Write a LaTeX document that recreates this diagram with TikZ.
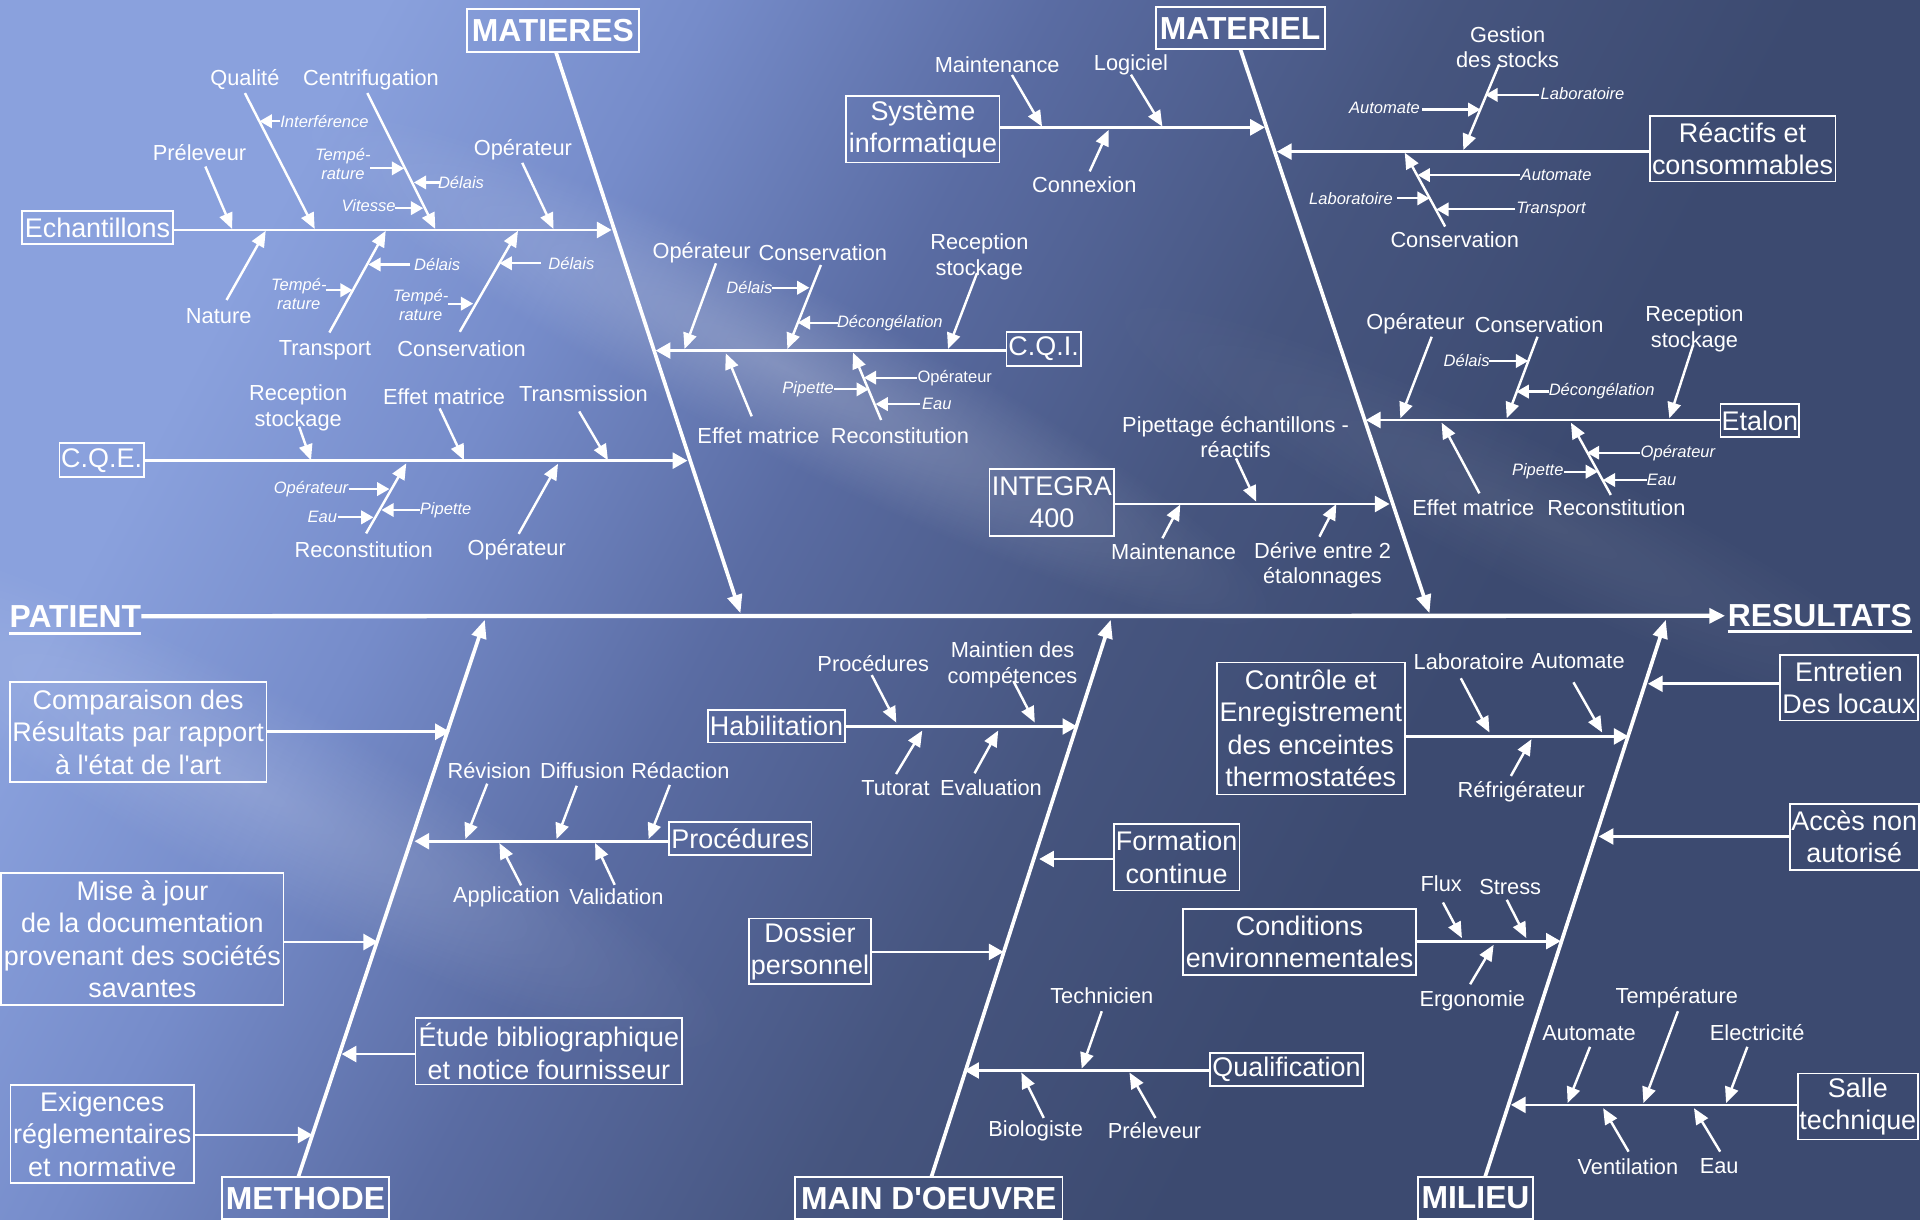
\documentclass[tikz,border=0pt]{standalone}
\usepackage{fontspec}
\setmainfont{Liberation Sans}
\usetikzlibrary{arrows.meta,fadings}
\definecolor{bgA}{RGB}{138,161,221}
\definecolor{bgB}{RGB}{118,140,202}
\definecolor{bgC}{RGB}{90,108,163}
\definecolor{bgE}{RGB}{70,85,127}
\definecolor{bgD}{RGB}{60,74,112}
\pgfdeclarehorizontalshading{bgsh}{100bp}{color(0bp)=(bgA); color(36.5bp)=(bgA); color(41.3bp)=(bgB); color(46.5bp)=(bgC); color(52.5bp)=(bgE); color(57.9bp)=(bgD); color(100bp)=(bgD)}
\tikzfading[name=glow, inner color=transparent!0, outer color=transparent!100]
\newcommand\mylink[4][cz]{\coordinate (#2a) at (#3);\coordinate (#2b) at (#4);\draw[#1] (#2a) -- (#2b);}
\begin{document}
\begin{tikzpicture}[x=1pt,y=-1pt,
 hdr/.style={draw=white,line width=1.6,text=white,font=\fontsize{26}{30}\selectfont\bfseries,inner sep=0},
 ttl/.style={text=white,font=\fontsize{26}{30}\selectfont\bfseries,inner sep=0},
 box/.style={draw=white,line width=1.4,text=white,font=\fontsize{22}{26.5}\selectfont,align=center,inner sep=0},
 lab/.style={text=white,font=\fontsize{17.8}{21}\selectfont,align=center,inner sep=0},
 it/.style={text=white,font=\fontsize{13.5}{15.5}\selectfont\itshape,align=center,inner sep=0},
 sm/.style={text=white,font=\fontsize{13.5}{15.5}\selectfont,inner sep=0},
 spine/.style={draw=white,line width=3.5,-{Triangle[length=13pt,width=12pt]}},
 bone/.style={draw=white,line width=3,-{Triangle[length=15pt,width=12pt]}},
 br/.style={draw=white,line width=2.2,-{Triangle[length=12pt,width=13pt]}},
 cz/.style={draw=white,line width=2,-{Triangle[length=13pt,width=11pt]}},
 sa/.style={draw=white,line width=1.8,-{Triangle[length=10pt,width=11pt]}},
 streak/.style={white,path fading=glow}]
\useasboundingbox (0,0) rectangle (1568,996);
% background
\begin{scope}
\clip (0,0) rectangle (1568,996);
\begin{scope}[transform canvas={rotate around={-28:(784,498)}}]
\shade[shading=bgsh] (-416,-702) rectangle (1984,1698);
\end{scope}
\begin{scope}[transform canvas={rotate around={-27:(640,300)}}]
\fill[streak,fill opacity=0.22] (190,230) rectangle (1090,370);
\end{scope}
\begin{scope}[transform canvas={rotate around={-28:(200,640)}}]
\fill[streak,fill opacity=0.16] (-250,560) rectangle (650,720);
\end{scope}
\begin{scope}[transform canvas={rotate around={-26:(1250,420)}}]
\fill[streak,fill opacity=0.07] (850,360) rectangle (1650,480);
\end{scope}
\end{scope}
% spine
\node[ttl] (patient) at (61.6,503.2) {PATIENT};
\node[ttl] (resultats) at (1486.2,502.9) {RESULTATS};
\draw[white,line width=2.6] ([yshift=-5pt]patient.base west) -- ([yshift=-5pt]patient.base east);
\draw[white,line width=2.6] ([yshift=-4pt]resultats.base west) -- ([yshift=-4pt]resultats.base east);
\draw[spine,shorten >=2] (patient.east) -- (resultats.west);
% ================= MATIERES
\node[hdr,minimum width=141,minimum height=35] (matieres) at (451.5,25.1) {MATIERES};
\mylink[bone]{bmat}{454,42.6}{604.7,500.8}
% Echantillons
\node[box,minimum width=122.8,minimum height=27.5] (echant) at (79.6,185.8) {Echantillons};
\coordinate (echT) at (499.5,187.8);
\draw[br] (echant.east |- echT) -- (echT);
\node[lab] (e1) at (163,125) {Préleveur}; \mylink{e1l}{167.7,136}{189.6,187}
\node[lab] (e2) at (200,65) {Qualité}; \mylink{e2l}{200,76}{257,187}
\node[lab] (e3) at (303,65) {Centrifugation}; \mylink{e3l}{300,76}{355.5,187}
\node[lab] (e4) at (427,122.5) {Opérateur}; \mylink{e4l}{426.5,133}{452,187}
\node[lab] (e5) at (178.6,258) {Nature}; \mylink{e5l}{185,245}{217,188.5}
\node[lab] (e6) at (265.4,285.8) {Transport}; \mylink{e6l}{269,271.6}{315,188.5}
\node[lab] (e7) at (377,285) {Conservation}; \mylink{e7l}{375.5,271}{423,188.5}
\node[it] (e2a) at (265,99) {Interférence}; \mylink[sa]{e2as}{229,99}{212,99}
\node[it] (e3a) at (280,134.3) {Tempé-\\rature}; \mylink[sa]{e3as}{302,137.5}{330,137.5}
\node[it] (e3b) at (376.5,149) {Délais}; \mylink[sa]{e3bs}{359,149}{338,149}
\node[it] (e3c) at (301,168) {Vitesse}; \mylink[sa]{e3cs}{322.6,170}{345.6,170}
\node[it] (e6a) at (357,216) {Délais}; \mylink[sa]{e6as}{335,216}{300.8,216}
\node[it] (e6b) at (244,240) {Tempé-\\rature}; \mylink[sa]{e6bs}{266,237}{288,237}
\node[it] (e7a) at (466.6,215) {Délais}; \mylink[sa]{e7as}{442,215}{408,215}
\node[it] (e7b) at (343.5,248.7) {Tempé-\\rature}; \mylink[sa]{e7bs}{365.7,248}{386.4,248}
% C.Q.E.
\node[box,minimum width=68.9,minimum height=27.8] (cqe) at (83,375.9) {C.Q.E.};
\coordinate (cqeT) at (561.4,376.2);
\draw[br] (cqe.east |- cqeT) -- (cqeT);
\node[lab] (q1) at (243.5,333) {Reception\\stockage}; \mylink{q1l}{244.3,348.5}{254,376}
\node[lab] (q2) at (362.7,323.9) {Effet matrice}; \mylink{q2l}{359,333.5}{379,375.9}
\node[lab] (q3) at (476.5,321.7) {Transmission}; \mylink{q3l}{473,336}{496.5,375.9}
\node[lab] (q4) at (297,449) {Reconstitution}; \mylink{q4l}{299,435.6}{331.8,378.4}
\node[lab] (q5) at (422,449) {Opérateur}; \mylink{q5l}{423.6,436}{455.7,378.8}
\node[it] (q4a) at (254,399.4) {Opérateur}; \mylink[sa]{q4as}{285,399.4}{318,399.4}
\node[it] (q4b) at (363.9,416.5) {Pipette}; \mylink[sa]{q4bs}{342.7,416.5}{311.5,416.5}
\node[it] (q4c) at (263.3,422.5) {Eau}; \mylink[sa]{q4cs}{276,422.5}{305,422.5}
% C.Q.I.
\node[box,minimum width=60.6,minimum height=28.1] (cqi) at (852.3,284.9) {C.Q.I.};
\coordinate (cqiT) at (535.5,286.3);
\draw[br] (cqi.west |- cqiT) -- (cqiT);
\node[lab] (i1) at (573,206) {Opérateur}; \mylink{i1l}{584.7,215}{559,285}
\node[lab] (i2) at (672,206) {Conservation}; \mylink{i2l}{670.4,216.4}{643,285}
\node[lab] (i3) at (799.8,210) {Reception\\stockage}; \mylink{i3l}{797.9,223}{774.2,285}
\node[lab] (i4) at (619.4,356) {Effet matrice}; \mylink{i4l}{613.9,340}{592.7,288.5}
\node[lab] (i5) at (734.9,356) {Reconstitution}; \mylink{i5l}{719.6,343}{696.6,288}
\node[it] (i2a) at (612,235) {Délais}; \mylink[sa]{i2as}{630.3,235}{661,235}
\node[it] (i2b) at (726.7,263.5) {Décongélation}; \mylink[sa]{i2bs}{684,263.5}{651.5,263.5}
\node[sm] (i5a) at (779.7,308.4) {Opérateur}; \mylink[sa]{i5as}{748.8,308.4}{705.5,308.4}
\node[it] (i5b) at (660,318) {Pipette}; \mylink[sa]{i5bs}{681.3,318}{709.5,318}
\node[it] (i5c) at (765,330) {Eau}; \mylink[sa]{i5cs}{751,330}{715,330}
% ================= MATERIEL
\node[hdr,minimum width=138,minimum height=34.3] (materiel) at (1012.7,23.2) {MATERIEL};
\mylink[bone]{bmatl}{1013,40.3}{1167.4,500.8}
\node[box,minimum width=125.3,minimum height=54.4] (sysinfo) at (753.7,105.6) {Système\\informatique};
\coordinate (sysT) at (1033,104);
\draw[br] (sysinfo.east |- sysT) -- (sysT);
\node[lab] (s1) at (814.4,53) {Maintenance}; \mylink{s1l}{826.4,61.2}{851,103.4}
\node[lab] (s2) at (923.6,53) {Logiciel}; \mylink{s2l}{923.6,61}{949.3,103.4}
\node[lab] (s3) at (885.5,151) {Connexion}; \mylink{s3l}{889.9,140}{905.5,106}
% Reactifs
\node[box,minimum width=151.6,minimum height=53.6] (reactifs) at (1423.1,121.5) {Réactifs et\\consommables};
\coordinate (reaT) at (1042.8,123.8);
\draw[br] (reactifs.west |- reaT) -- (reaT);
\node[lab] (r1) at (1231.2,38.5) {Gestion\\des stocks}; \mylink{r1l}{1224.1,53}{1195,122.5}
\node[lab] (r2) at (1188,195.4) {Conservation}; \mylink{r2l}{1180.2,185}{1147.2,124.7}
\node[it] (r1a) at (1292.4,76.8) {Laboratoire}; \mylink[sa]{r1as}{1256.8,77.5}{1213,77.5}
\node[it] (r1b) at (1130.7,88.5) {Automate}; \mylink[sa]{r1bs}{1161.4,89.5}{1209,89.5}
\node[it] (r2a) at (1270.8,142.9) {Automate}; \mylink[sa]{r2as}{1241,143}{1157.7,143}
\node[it] (r2b) at (1103.3,162) {Laboratoire}; \mylink[sa]{r2bs}{1140.9,162}{1167.5,162}
\node[it] (r2c) at (1266.7,171) {Transport}; \mylink[sa]{r2cs}{1237.5,171}{1173,171}
% Etalon
\node[box,minimum width=64.5,minimum height=27] (etalon) at (1437.2,343.5) {Etalon};
\coordinate (etaT) at (1115.4,343);
\draw[br] (etalon.west |- etaT) -- (etaT);
\node[lab] (t1) at (1156,264) {Opérateur}; \mylink{t1l}{1169.2,275}{1143.6,341.6}
\node[lab] (t2) at (1257,265) {Conservation}; \mylink{t2l}{1255.6,275}{1230.5,341.6}
\node[lab] (t3) at (1383.8,268.7) {Reception\\stockage}; \mylink{t3l}{1382.7,281.7}{1363.3,341.6}
\node[lab] (t4) at (1203.2,415) {Effet matrice}; \mylink{t4l}{1208.2,402.9}{1177.3,345.2}
\node[lab] (t5) at (1320,415) {Reconstitution}; \mylink{t5l}{1315.5,404.2}{1282.9,345.2}
\node[it] (t2a) at (1197.7,294.8) {Délais}; \mylink[sa]{t2as}{1216.3,294.8}{1248,294.8}
\node[it] (t2b) at (1308,319.8) {Décongélation}; \mylink[sa]{t2bs}{1264.8,319.8}{1238.5,319.8}
\node[it] (t5a) at (1370.3,369.7) {Opérateur}; \mylink[sa]{t5as}{1339.2,369.7}{1296,369.7}
\node[it] (t5b) at (1255.8,385.2) {Pipette}; \mylink[sa]{t5bs}{1277.6,385.2}{1305,385.2}
\node[it] (t5c) at (1357,392) {Eau}; \mylink[sa]{t5cs}{1344.9,392}{1309,392}
% INTEGRA
\node[box,minimum width=101.7,minimum height=54.5] (integra) at (859,410.2) {INTEGRA\\400};
\coordinate (intT) at (1134.8,411.6);
\draw[br] (integra.east |- intT) -- (intT);
\node[lab] (n1) at (1009,357) {Pipettage échantillons -\\réactifs}; \mylink{n1l}{1009.4,374.3}{1025.9,409.7}
\node[lab] (n2) at (958.4,450.5) {Maintenance}; \mylink{n2l}{949.3,439.6}{963.9,412}
\node[lab] (n3) at (1080,461.5) {Dérive entre 2\\étalonnages}; \mylink{n3l}{1077.5,438.3}{1091.3,411.6}
% ================= METHODE
\node[hdr,minimum width=137,minimum height=34] (methode) at (249.5,978.4) {METHODE};
\mylink[bone]{bmeth}{243.5,961.5}{395.9,506.2}
\node[box,minimum width=209.8,minimum height=81.4] (comp) at (112.8,597.8) {Comparaison des\\Résultats par rapport\\à l\textquotesingle état de l\textquotesingle art};
\coordinate (compT) at (367.4,597.6);
\draw[br] (comp.east |- compT) -- (compT);
\node[box,minimum width=116.5,minimum height=26.7] (proc) at (604.5,684.8) {Procédures};
\coordinate (procT) at (338.5,687);
\draw[br] (proc.west |- procT) -- (procT);
\node[lab] (p1) at (399.6,629.5) {Révision}; \mylink{p1l}{397.9,640}{380,685.3}
\node[lab] (p2) at (475.6,629.5) {Diffusion}; \mylink{p2l}{471,641.7}{454.5,685.3}
\node[lab] (p3) at (555.6,629.5) {Rédaction}; \mylink{p3l}{547,641}{529.7,685.3}
\node[lab] (p4) at (413.6,732.2) {Application}; \mylink{p4l}{425.6,723}{407.8,688.5}
\node[lab] (p5) at (503.4,732.2) {Validation}; \mylink{p5l}{502,722.6}{486,688.5}
\node[box,minimum width=230.6,minimum height=108.2] (maj) at (116.3,766.9) {Mise à jour\\de la documentation\\provenant des sociétés\\savantes};
\coordinate (majT) at (308.8,769.3);
\draw[br] (maj.east |- majT) -- (majT);
\node[box,minimum width=217.7,minimum height=54.2] (etude) at (448.2,858.5) {Étude bibliographique\\et notice fournisseur};
\coordinate (etuT) at (279,860.8);
\draw[br] (etude.west |- etuT) -- (etuT);
\node[box,minimum width=149.7,minimum height=80.4] (exig) at (83.5,926.1) {Exigences\\réglementaires\\et normative};
\coordinate (exiT) at (255.3,926.9);
\draw[br] (exig.east |- exiT) -- (exiT);
% ================= MAIN D'OEUVRE
\node[hdr,minimum width=218.4,minimum height=34] (mainoeuvre) at (758.5,978.4) {MAIN D\textquotesingle OEUVRE};
\mylink[bone]{bmain}{760.5,961.5}{907.1,506.2}
\node[box,minimum width=111.9,minimum height=26.5] (habil) at (634.2,593) {Habilitation};
\coordinate (habT) at (879.7,593.3);
\draw[br] (habil.east |- habT) -- (habT);
\node[lab] (h1) at (713.1,541.7) {Procédures}; \mylink{h1l}{711.9,551.3}{732,590.1}
\node[lab] (h2) at (826.9,543) {Maintien des\\compétences}; \mylink{h2l}{827.6,556.2}{845.1,590.1}
\node[lab] (h3) at (731.3,643.4) {Tutorat}; \mylink{h3l}{731.8,632.1}{753.2,596.6}
\node[lab] (h4) at (809.3,643.4) {Evaluation}; \mylink{h4l}{795.9,631.5}{815.2,596.6}
\node[box,minimum width=102.5,minimum height=54.2] (formation) at (960.9,700.2) {Formation\\continue};
\coordinate (forT) at (848.7,701.5);
\draw[br] (formation.west |- forT) -- (forT);
\node[box,minimum width=99.6,minimum height=53.8] (dossier) at (661.5,776.9) {Dossier\\personnel};
\coordinate (dosT) at (819.6,777.4);
\draw[br] (dossier.east |- dosT) -- (dosT);
\node[box,minimum width=124.7,minimum height=27.5] (qualif) at (1050.7,873.4) {Qualification};
\coordinate (quaT) at (787.5,874.2);
\draw[br] (qualif.west |- quaT) -- (quaT);
\node[lab] (m1) at (899.8,813.5) {Technicien}; \mylink{m1l}{899.8,825.8}{883.4,872.7}
\node[lab] (m2) at (845.8,923.6) {Biologiste}; \mylink{m2l}{852.4,913}{834.1,875.9}
\node[lab] (m3) at (942.8,923.6) {Préleveur}; \mylink{m3l}{943.6,913}{922.4,875.9}
% ================= MILIEU
\node[hdr,minimum width=94.2,minimum height=34] (milieu) at (1205,978.4) {MILIEU};
\mylink[bone]{bmil}{1212.7,961.5}{1360.4,506.2}
\node[box,minimum width=153.3,minimum height=107.8] (controle) at (1070.5,594.9) {Contrôle et\\Enregistrement\\des enceintes\\thermostatées};
\coordinate (conT) at (1330,601.4);
\draw[br] (controle.east |- conT) -- (conT);
\node[lab] (c1) at (1199.5,540) {Laboratoire}; \mylink{c1l}{1193,553.9}{1216.4,598.2}
\node[lab] (c2) at (1288.7,540) {Automate}; \mylink{c2l}{1285,557.2}{1308.4,598.2}
\node[lab] (c3) at (1242.3,646.6) {Réfrigérateur}; \mylink{c3l}{1233.9,633.7}{1250.7,603.7}
\node[box,minimum width=112.6,minimum height=53.3] (entretien) at (1510,561.8) {Entretien\\Des locaux};
\coordinate (entT) at (1345.8,558.4);
\draw[br] (entretien.west |- entT) -- (entT);
\node[box,minimum width=105.4,minimum height=54] (acces) at (1514.3,683.3) {Accès non\\autorisé};
\coordinate (accT) at (1305.6,683.1);
\draw[br] (acces.west |- accT) -- (accT);
\node[box,minimum width=190.4,minimum height=53.6] (condenv) at (1061.3,769.3) {Conditions\\environnementales};
\coordinate (cenT) at (1274.6,768.6);
\draw[br] (condenv.east |- cenT) -- (cenT);
\node[lab] (d1) at (1177,721.8) {Flux}; \mylink{d1l}{1178.4,737}{1193.9,766.1}
\node[lab] (d2) at (1233.3,724.1) {Stress}; \mylink{d2l}{1230.5,734.8}{1246.5,766.1}
\node[lab] (d3) at (1202.4,817.7) {Ergonomie}; \mylink{d3l}{1200.6,803.8}{1219.8,771.6}
\node[box,minimum width=98.2,minimum height=53.9] (salle) at (1517.2,903.7) {Salle\\technique};
\coordinate (salT) at (1233.9,902.3);
\draw[br] (salle.west |- salT) -- (salT);
\node[lab] (l1) at (1297.7,843.6) {Automate}; \mylink{l1l}{1298.5,854.9}{1280.2,900.8}
\node[lab] (l2) at (1369.4,814.5) {Température}; \mylink{l2l}{1370.3,825.8}{1342.1,900.8}
\node[lab] (l3) at (1435,843.6) {Electricité}; \mylink{l3l}{1427,854.9}{1409.6,900.8}
\node[lab] (l4) at (1329.4,952.4) {Ventilation}; \mylink{l4l}{1330,940.5}{1309.2,905}
\node[lab] (l5) at (1404,952.4) {Eau}; \mylink{l5l}{1404.8,940.5}{1383.4,905}
\end{tikzpicture}
\end{document}
